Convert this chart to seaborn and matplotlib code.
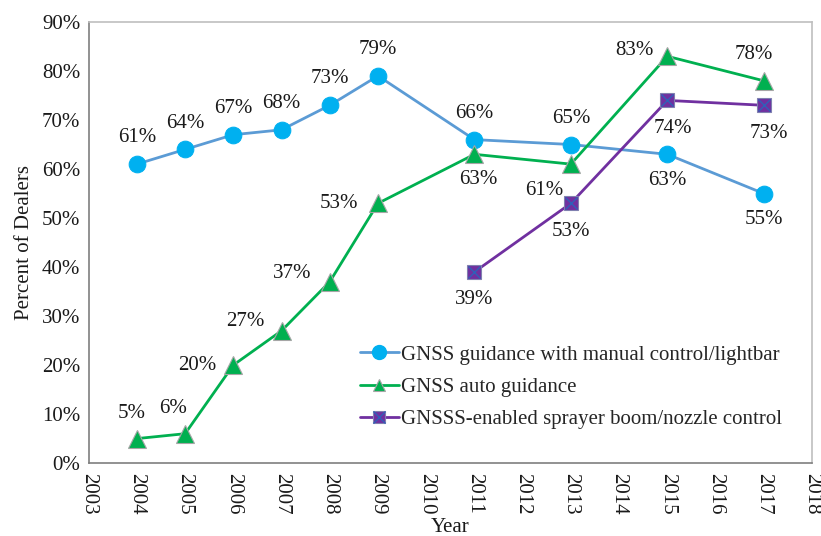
import numpy as np
import pandas as pd
import matplotlib
matplotlib.use("Agg")
import matplotlib.pyplot as plt
import seaborn as sns
from matplotlib.lines import Line2D
from matplotlib.legend_handler import HandlerTuple

# data
years_manual = [2004, 2005, 2006, 2007, 2008, 2009, 2011, 2013, 2015, 2017]
manual = [61, 64, 67, 68, 73, 79, 66, 65, 63, 55]
years_auto = [2004, 2005, 2006, 2007, 2008, 2009, 2011, 2013, 2015, 2017]
auto = [5, 6, 20, 27, 37, 53, 63, 61, 83, 78]
years_boom = [2011, 2013, 2015, 2017]
boom = [39, 53, 74, 73]
series_names = ["GNSS guidance with manual control/lightbar",
                "GNSS auto guidance",
                "GNSSS-enabled sprayer boom/nozzle control"]

sns.set_style("white")
plt.rcParams['font.family'] = ['Liberation Serif', 'DejaVu Serif']

fig = plt.figure(figsize=(8.21, 5.36), dpi=100)
ax = fig.add_axes([0.108, 0.136, 0.881, 0.823])

df1 = pd.DataFrame({"Year": years_manual, "pct": manual})
df2 = pd.DataFrame({"Year": years_auto, "pct": auto})
df3 = pd.DataFrame({"Year": years_boom, "pct": boom})

sns.lineplot(data=df1, x="Year", y="pct", ax=ax, color="#5B9BD5", lw=2,
             marker="o", markersize=12, markerfacecolor="#00B0F0",
             markeredgecolor="#00B0F0", zorder=3)
sns.lineplot(data=df2, x="Year", y="pct", ax=ax, color="#00B050", lw=2,
             marker="^", markersize=13, markerfacecolor="#00B050",
             markeredgecolor="#A6A6A6", markeredgewidth=0.8, zorder=3)
sns.lineplot(data=df3, x="Year", y="pct", ax=ax, color="#7030A0", lw=2,
             marker="s", markersize=10, markerfacecolor="#7030A0",
             markeredgecolor="#8080B0", markeredgewidth=0.8, zorder=3)
ax.plot(df3["Year"], df3["pct"], ls="none", marker="x", markersize=9,
        color="#3060B8", markeredgewidth=1, zorder=4)

# data labels
fs = 15
def lab(x, y, dx, dy, ha="center"):
    ax.annotate(f"{y}%", (x, y), xytext=(dx, dy), textcoords="offset points",
                ha=ha, va="center", fontsize=fs, color="#1a1a1a")

for x, y in zip(years_manual, manual):
    if x >= 2015:
        lab(x, y, 0, -19)
    else:
        lab(x, y, 0, 19)

auto_off = {2004: (-4, 18), 2005: (-9, 18), 2006: (-26, 0), 2007: (-26, 7),
            2008: (-27, 6), 2009: (-28, 0), 2011: (3, -18), 2013: (-19, -19),
            2015: (-24, 4), 2017: (-7, 19)}
for x, y in zip(years_auto, auto):
    dx, dy = auto_off[x]
    lab(x, y, dx, dy)

for x, y in zip(years_boom, boom):
    lab(x, y, 4 if x >= 2015 else 0, -20)

ax.set_xlim(2003, 2018)
ax.set_ylim(0, 90)
ax.set_xticks(range(2003, 2019))
ax.set_xticklabels([str(y) for y in range(2003, 2019)], rotation=-90, fontsize=fs)
ax.set_yticks(range(0, 91, 10))
ax.set_yticklabels([f"{v}%" for v in range(0, 91, 10)], fontsize=fs)
ax.tick_params(axis="both", length=0, pad=6, colors="#1a1a1a")
ax.tick_params(axis="x", pad=7)
ax.set_xlabel("Year", fontsize=fs, color="#1a1a1a")
ax.xaxis.set_label_coords(0.5, -0.124)
ax.set_ylabel("Percent of Dealers", fontsize=fs, labelpad=6, color="#1a1a1a")

for s in ["left", "bottom"]:
    ax.spines[s].set_color("#7f7f7f")
    ax.spines[s].set_linewidth(1.2)
for s in ["top", "right"]:
    ax.spines[s].set_color("#BFBFBF")
    ax.spines[s].set_linewidth(1.2)

h1 = Line2D([], [], color="#5B9BD5", lw=2, marker="o", markersize=10,
            markerfacecolor="#00B0F0", markeredgecolor="#00B0F0")
h2 = Line2D([], [], color="#00B050", lw=2, marker="^", markersize=9,
            markerfacecolor="#00B050", markeredgecolor="#A6A6A6", markeredgewidth=0.8)
h3a = Line2D([], [], color="#7030A0", lw=2, marker="s", markersize=9,
             markerfacecolor="#7030A0", markeredgecolor="#8080B0", markeredgewidth=0.8)
h3b = Line2D([], [], ls="none", marker="x", markersize=8, color="#3060B8",
             markeredgewidth=1)
ax.legend([h1, h2, (h3a, h3b)], series_names,
          handler_map={tuple: HandlerTuple(ndivide=1, pad=0)},
          loc="lower right", bbox_to_anchor=(0.985, 0.035), frameon=False,
          fontsize=fs, handlelength=1.9, handletextpad=0.1, labelspacing=0.6)

fig.savefig("out.png", dpi=100)
